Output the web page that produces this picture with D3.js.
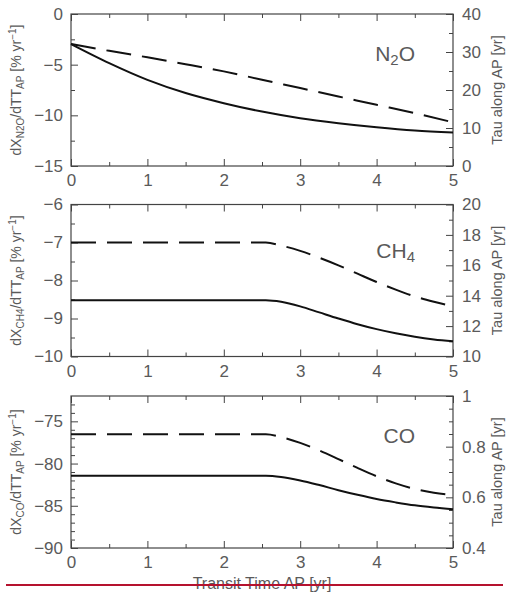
<!DOCTYPE html>
<html>
<head>
<meta charset="utf-8">
<script src="https://cdn.jsdelivr.net/npm/d3@7"></script>
<style>
  html, body { margin: 0; padding: 0; background: #fff; }
  svg { display: block; }
  text { font-family: "Liberation Sans", Arial, sans-serif; fill: #5a5a5a; }
</style>
</head>
<body>
<svg id="chart" width="509" height="595"></svg>
<script>
// Transit time along the air path (years)
const transitSmooth = [0, 0.5, 1, 1.5, 2, 2.5, 3, 3.5, 4, 4.5, 5];
const transitKnee = [0, 2.55, 2.75, 3, 3.25, 3.5, 3.75, 4, 4.25, 4.5, 4.75, 5];

// N2O: rate of change (left axis) and tau along AP (right axis)
const n2oRate = [-2.97, -4.85, -6.5, -7.8, -8.8, -9.63, -10.29, -10.78, -11.18, -11.5, -11.7];
const n2oTau = [32.1, 30.3, 28.6, 26.8, 24.9, 22.7, 20.5, 18.3, 16.1, 13.9, 11.5];

// CH4
const ch4Rate = [-8.52, -8.52, -8.56, -8.68, -8.84, -9.0, -9.15, -9.28, -9.39, -9.48, -9.55, -9.6];
const ch4Tau = [17.5, 17.5, 17.3, 16.95, 16.5, 16.0, 15.45, 14.9, 14.4, 13.95, 13.6, 13.3];

// CO
const coRate = [-81.43, -81.43, -81.58, -82.0, -82.55, -83.15, -83.7, -84.2, -84.6, -84.95, -85.2, -85.4];
const coTau = [0.849, 0.849, 0.838, 0.815, 0.785, 0.751, 0.716, 0.683, 0.655, 0.633, 0.618, 0.609];

// Axis domains and tick values
const transitDomain = [0, 5];
const transitTicks = [0, 1, 2, 3, 4, 5];
const transitMinor = [0.5, 1.5, 2.5, 3.5, 4.5];

const n2oRateDomain = [-15, 0];
const n2oRateTicks = [-15, -10, -5, 0];
const n2oRateMinor = [-12.5, -7.5, -2.5];
const n2oTauDomain = [0, 40];
const n2oTauTicks = [0, 10, 20, 30, 40];
const n2oTauMinor = [5, 15, 25, 35];

const ch4RateDomain = [-10, -6];
const ch4RateTicks = [-10, -9, -8, -7, -6];
const ch4RateMinor = [-9.5, -8.5, -7.5, -6.5];
const ch4TauDomain = [10, 20];
const ch4TauTicks = [10, 12, 14, 16, 18, 20];
const ch4TauMinor = [11, 13, 15, 17, 19];

const coRateDomain = [-90, -72];
const coRateTicks = [-90, -85, -80, -75];
const coRateMinor = [-89, -88, -87, -86, -84, -83, -82, -81, -79, -78, -77, -76, -74, -73];
const coTauDomain = [0.4, 1];
const coTauTicks = [0.4, 0.6, 0.8, 1];
const coTauMinor = [0.45, 0.5, 0.55, 0.65, 0.7, 0.75, 0.85, 0.9, 0.95];

const svg = d3.select("#chart");
const xRange = [71, 453];

const panels = [
  { species: ["N", "2", "O"], rateSub: "N2O", top: 14, labelY: 61,
    x: transitSmooth, rate: n2oRate, tau: n2oTau,
    rateDomain: n2oRateDomain, rateTicks: n2oRateTicks, rateMinor: n2oRateMinor,
    tauDomain: n2oTauDomain, tauTicks: n2oTauTicks, tauMinor: n2oTauMinor },
  { species: ["CH", "4", ""], rateSub: "CH4", top: 204.5, labelY: 258,
    x: transitKnee, rate: ch4Rate, tau: ch4Tau,
    rateDomain: ch4RateDomain, rateTicks: ch4RateTicks, rateMinor: ch4RateMinor,
    tauDomain: ch4TauDomain, tauTicks: ch4TauTicks, tauMinor: ch4TauMinor },
  { species: ["CO", "", ""], rateSub: "CO", top: 396, labelY: 443,
    x: transitKnee, rate: coRate, tau: coTau,
    rateDomain: coRateDomain, rateTicks: coRateTicks, rateMinor: coRateMinor,
    tauDomain: coTauDomain, tauTicks: coTauTicks, tauMinor: coTauMinor }
];
const panelH = 152;

const fmt = d => d < 0 ? "\u2212" + (-d) : String(d);

function styleAxis(g) {
  g.select(".domain").remove();
  g.selectAll(".tick line").attr("stroke", "#444").attr("stroke-width", 1);
  g.selectAll(".tick text").style("font-size", "17px").attr("fill", "#5a5a5a");
}

panels.forEach(p => {
  const y0 = p.top, y1 = p.top + panelH;
  const x = d3.scaleLinear().domain(transitDomain).range(xRange);
  const yL = d3.scaleLinear().domain(p.rateDomain).range([y1, y0]);
  const yR = d3.scaleLinear().domain(p.tauDomain).range([y1, y0]);
  const g = svg.append("g");

  // bottom axis with labels
  g.append("g").attr("transform", `translate(0,${y1})`)
    .call(d3.axisBottom(x).tickValues(transitTicks).tickFormat(fmt).tickSizeInner(-7).tickSizeOuter(0).tickPadding(8))
    .call(styleAxis);
  g.append("g").attr("transform", `translate(0,${y1})`)
    .call(d3.axisBottom(x).tickValues(transitMinor).tickFormat("").tickSizeInner(-4).tickSizeOuter(0))
    .call(styleAxis);
  // top axis, ticks only
  g.append("g").attr("transform", `translate(0,${y0})`)
    .call(d3.axisTop(x).tickValues(transitTicks).tickFormat("").tickSizeInner(-7).tickSizeOuter(0))
    .call(styleAxis);
  g.append("g").attr("transform", `translate(0,${y0})`)
    .call(d3.axisTop(x).tickValues(transitMinor).tickFormat("").tickSizeInner(-4).tickSizeOuter(0))
    .call(styleAxis);
  // left axis
  g.append("g").attr("transform", `translate(${xRange[0]},0)`)
    .call(d3.axisLeft(yL).tickValues(p.rateTicks).tickFormat(fmt).tickSizeInner(-7).tickSizeOuter(0).tickPadding(8))
    .call(styleAxis);
  g.append("g").attr("transform", `translate(${xRange[0]},0)`)
    .call(d3.axisLeft(yL).tickValues(p.rateMinor).tickFormat("").tickSizeInner(-4).tickSizeOuter(0))
    .call(styleAxis);
  // right axis
  g.append("g").attr("transform", `translate(${xRange[1]},0)`)
    .call(d3.axisRight(yR).tickValues(p.tauTicks).tickFormat(fmt).tickSizeInner(-7).tickSizeOuter(0).tickPadding(9))
    .call(styleAxis);
  g.append("g").attr("transform", `translate(${xRange[1]},0)`)
    .call(d3.axisRight(yR).tickValues(p.tauMinor).tickFormat("").tickSizeInner(-4).tickSizeOuter(0))
    .call(styleAxis);

  // frame
  g.append("rect").attr("x", xRange[0]).attr("y", y0)
    .attr("width", xRange[1] - xRange[0]).attr("height", panelH)
    .attr("fill", "none").attr("stroke", "#444").attr("stroke-width", 1.2);

  // curves: dashed = tau (right axis), solid = rate (left axis)
  const pts = p.x.map((t, i) => ({ t, rate: p.rate[i], tau: p.tau[i] }));
  g.append("path").datum(pts)
    .attr("d", d3.line().x(d => x(d.t)).y(d => yR(d.tau)).curve(d3.curveMonotoneX))
    .attr("fill", "none").attr("stroke", "#111").attr("stroke-width", 2)
    .attr("stroke-dasharray", "25,11");
  g.append("path").datum(pts)
    .attr("d", d3.line().x(d => x(d.t)).y(d => yL(d.rate)).curve(d3.curveMonotoneX))
    .attr("fill", "none").attr("stroke", "#111").attr("stroke-width", 2);

  // species label
  const lab = g.append("text").attr("x", 415).attr("y", p.labelY)
    .attr("text-anchor", "end").style("font-size", "21px");
  lab.append("tspan").text(p.species[0]);
  if (p.species[1]) lab.append("tspan").attr("dy", 4).style("font-size", "15px").text(p.species[1]);
  if (p.species[2]) lab.append("tspan").attr("dy", -4).text(p.species[2]);

  // left axis title
  const cy = (y0 + y1) / 2;
  const lt = g.append("text")
    .attr("transform", `translate(21,${cy}) rotate(-90)`)
    .attr("text-anchor", "middle").style("font-size", "14px");
  lt.append("tspan").text("dX");
  lt.append("tspan").attr("dy", 3).style("font-size", "10px").text(p.rateSub);
  lt.append("tspan").attr("dy", -3).text("/dTT");
  lt.append("tspan").attr("dy", 3).style("font-size", "10px").text("AP");
  lt.append("tspan").attr("dy", -3).text(" [% yr");
  lt.append("tspan").attr("dy", -5).style("font-size", "10px").text("\u22121");
  lt.append("tspan").attr("dy", 5).text("]");

  // right axis title
  g.append("text")
    .attr("transform", `translate(502,${cy}) rotate(-90)`)
    .attr("text-anchor", "middle").style("font-size", "14.5px")
    .text("Tau along AP [yr]");
});

// x axis title
svg.append("text").attr("x", 262).attr("y", 589)
  .attr("text-anchor", "middle").style("font-size", "16px")
  .text("Transit Time AP [yr]");

// rule across the bottom
svg.append("line").attr("x1", 6).attr("x2", 503).attr("y1", 585).attr("y2", 585)
  .attr("stroke", "#b5122e").attr("stroke-width", 2);
</script>
</body>
</html>
